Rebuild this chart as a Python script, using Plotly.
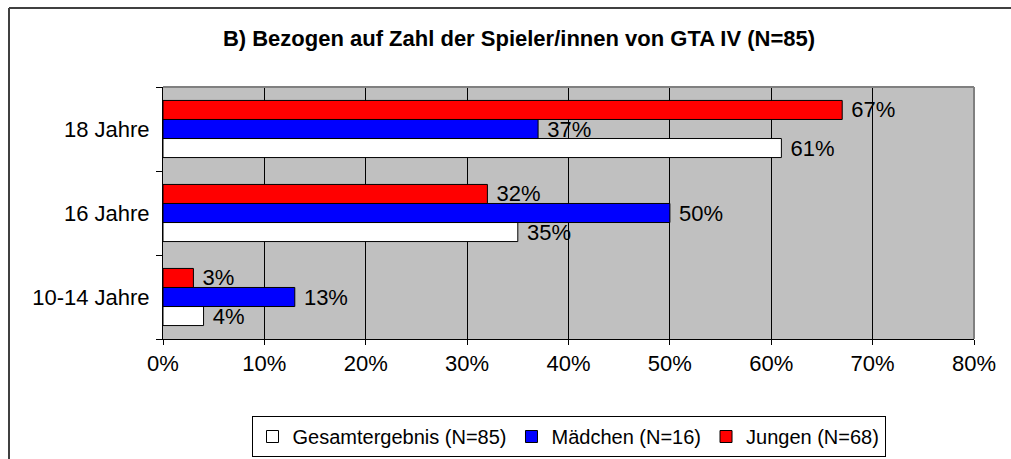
import plotly.graph_objects as go

# Altersfreigabe-Einschätzung, Anteile der Spieler/innen
categories = ["10-14 Jahre", "16 Jahre", "18 Jahre"]
gesamt = [0.04, 0.35, 0.61]
maedchen = [0.13, 0.50, 0.37]
jungen = [0.03, 0.32, 0.67]
series_names = ["Gesamtergebnis (N=85)", "Mädchen (N=16)", "Jungen (N=68)"]
x_ticks = [0, 0.1, 0.2, 0.3, 0.4, 0.5, 0.6, 0.7, 0.8]

colors = ["#FFFFFF", "#0000FF", "#FF0000"]
font = "Liberation Sans, Arial, sans-serif"

fig = go.Figure()
for name, vals, col in zip(series_names, [gesamt, maedchen, jungen], colors):
    fig.add_trace(go.Bar(
        y=categories, x=vals, name=name, orientation="h",
        marker_color=col, marker_line_color="black", marker_line_width=1,
        text=[f"\u00a0{round(v * 100)}%" for v in vals],
        textposition="outside", constraintext="none", cliponaxis=False,
        textfont=dict(family=font, size=22, color="black"),
    ))

# body margin removed below, plot area spans 163..974 x 87..339
W, H = 1011, 459
L, R, T, B = 163, 37, 87, 120
pw, ph = W - L - R, H - T - B

fig.update_layout(
    width=W, height=H,
    margin=dict(l=L, r=R, t=T, b=B),
    barmode="group", bargap=0.32, bargroupgap=0,
    plot_bgcolor="#C0C0C0", paper_bgcolor="white",
    font=dict(family=font, size=22, color="black"),
    title=dict(text="<b>B) Bezogen auf Zahl der Spieler/innen von GTA IV (N=85)</b>",
               x=519 / W, xanchor="center", y=1 - 38 / H, yanchor="middle",
               font=dict(size=22, family=font, color="black")),
    xaxis=dict(range=[0, 0.8], tickvals=x_ticks, tickformat=".0%",
               showgrid=True, gridcolor="black", gridwidth=1,
               showline=True, linecolor="black", linewidth=1,
               ticks="outside", ticklen=5, tickcolor="black",
               zeroline=False, fixedrange=True),
    yaxis=dict(showline=True, linecolor="black", linewidth=1,
               ticks="outside", ticklen=6, tickcolor="black",
               tickson="boundaries", showgrid=False, ticklabelstandoff=8),
    legend=dict(orientation="h", x=0.5, xanchor="center",
                yref="container", y=1 - 416 / H, yanchor="top",
                bordercolor="black", borderwidth=1, bgcolor="white",
                font=dict(size=20), traceorder="normal"),
    showlegend=True,
)

# grey plot-area border on top and right, outer chart frame
fig.add_shape(type="line", xref="paper", yref="paper", x0=0, x1=1, y0=1, y1=1,
              line=dict(color="#808080", width=2))
fig.add_shape(type="line", xref="paper", yref="paper", x0=1, x1=1, y0=0, y1=1,
              line=dict(color="#808080", width=2))
fig.add_shape(type="line", xref="paper", yref="paper",
              x0=(9 - L) / pw, x1=(9 - L) / pw, y0=-(B + 20) / ph, y1=(ph + T - 8) / ph,
              line=dict(color="#404040", width=2), layer="below")
fig.add_shape(type="line", xref="paper", yref="paper",
              x0=(9 - L) / pw, x1=(W + 40 - L) / pw, y0=(ph + T - 8) / ph, y1=(ph + T - 8) / ph,
              line=dict(color="#404040", width=2), layer="below")

fig.write_html("out.html", config={"displayModeBar": False},
               post_script="document.body.style.margin='0';document.body.style.overflow='hidden';")
